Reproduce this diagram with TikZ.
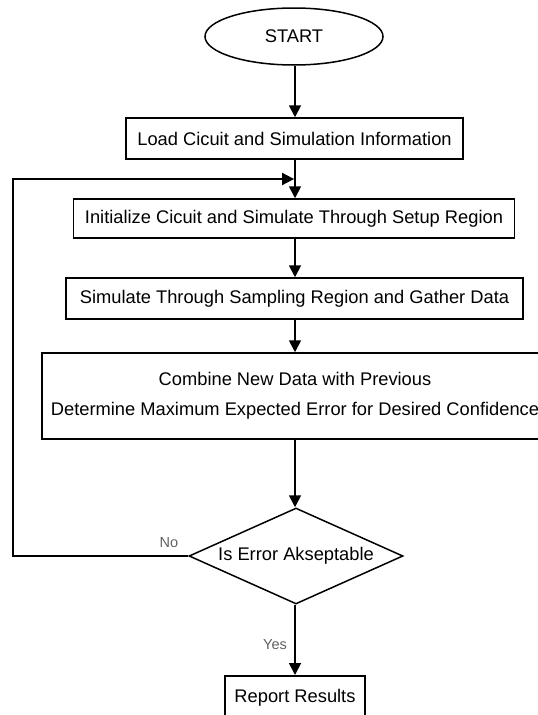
\documentclass[tikz,border=0pt]{standalone}
\usepackage{fontspec}
\setmainfont{Liberation Sans}
\usetikzlibrary{arrows.meta,shapes.geometric}

\tikzset{
  box/.style={draw=black, line width=1.5pt, fill=white, rectangle, inner sep=0pt,
    font=\fontsize{18.3}{30}\selectfont, align=center},
  terminal/.style={draw=black, line width=1.5pt, fill=white, ellipse, inner sep=0pt,
    minimum width=178pt, minimum height=57pt, font=\fontsize{18.3}{22}\selectfont},
  decision/.style={draw=black, line width=1.5pt, fill=white, diamond, aspect=2.23,
    inner sep=0pt, minimum width=214pt, minimum height=96pt,
    font=\fontsize{18.3}{22}\selectfont},
  flow/.style={draw=black, line width=1.8pt, -{Triangle[length=12pt,width=12pt]}},
  branchlabel/.style={text=black!62, font=\fontsize{14.5}{16}\selectfont, inner sep=0pt}
}

\begin{document}
\begin{tikzpicture}[x=1pt, y=-1pt]
  \useasboundingbox (0,0) rectangle (538,715);
  \clip (0,0) rectangle (538,715);
  \fill[white] (0,0) rectangle (538,715);

  % process steps
  \node[terminal] (start) at (294,36.5) {START};
  \node[box, minimum width=337pt, minimum height=41pt] (load) at (294.5,138.5)
    {Load Cicuit and Simulation Information};
  \node[box, minimum width=441pt, minimum height=39pt] (init) at (294,218.5)
    {Initialize Cicuit and Simulate Through Setup Region};
  \node[box, minimum width=457pt, minimum height=41pt] (sample) at (294.5,298.5)
    {Simulate Through Sampling Region and Gather Data};
  \node[box, minimum width=506pt, minimum height=86pt] (combine) at (295,396)
    {Combine New Data with Previous\\Determine Maximum Expected Error for Desired Confidence};
  \node[decision] (check) at (296,556) {Is Error Akseptable};
  \node[box, minimum width=140pt, minimum height=44pt, anchor=north] (report) at (295,675)
    {Report Results};

  % merge point of the retry loop
  \coordinate (join) at (295,179);
  \coordinate (corner) at (13,556);

  % main flow
  \draw[flow] (start.south -| join) -- (load.north -| join);
  \draw[flow] (load.south -| join) -- (init.north -| join);
  \draw[flow] (init.south -| join) -- (sample.north -| join);
  \draw[flow] (sample.south -| join) -- (combine.north -| join);
  \draw[flow] (combine.south -| join) -- (check.north -| join);
  \draw[flow] (check.south -| join) -- (report.north -| join);

  % retry loop
  \draw[flow, shorten >=0.9pt] (check.west) -- (corner) |- (join);

  % branch labels
  \node[branchlabel] (nolabel) at (169,543) {No};
  \node[branchlabel] (yeslabel) at (275,645) {Yes};
\end{tikzpicture}
\end{document}
